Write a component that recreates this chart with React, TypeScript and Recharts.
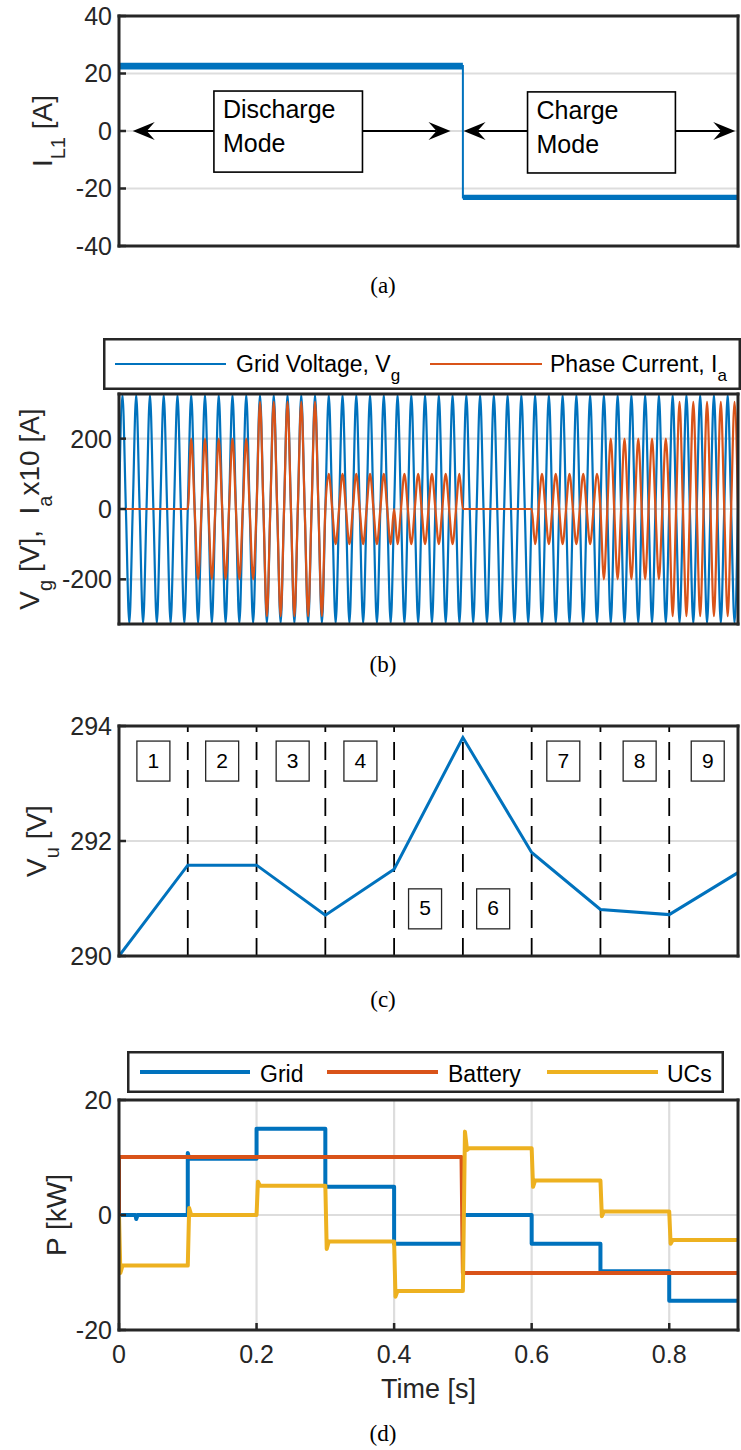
import React from 'react';
import {
  ComposedChart,
  LineChart,
  Line,
  Area,
  XAxis,
  YAxis,
  CartesianGrid,
  ReferenceLine,
  ReferenceArea,
  ReferenceDot,
  Legend,
} from 'recharts';

// MATLAB default colour order
const BLUE = '#0072BD';
const ORANGE = '#D95319';
const YELLOW = '#EDB120';
const INK = '#262626';
const GRID_GREY = '#dddddd';
const SANS = '"Liberation Sans", Arial, Helvetica, sans-serif';
const SERIF = '"Liberation Serif", "Times New Roman", serif';

// ---- shared time axis ----
const T_DOMAIN = [0, 0.9];
const T_TICKS = [0, 0.2, 0.4, 0.6, 0.8];

// ---- (a) inductor current I_L1 [A] ----
const IL1_DOMAIN = [-40, 40];
const IL1_TICKS = [-40, -20, 0, 20, 40];
const IL1_T = [0, 0, 0.5, 0.5, 0.9];
const IL1_MEAN = [-2, 22.6, 22.6, -23.1, -23.1];
// switching ripple envelope on the two plateaus
const IL1_RIPPLE_T = [[0, 0.5], [0.5, 0.9]];
const IL1_RIPPLE = [[21.4, 23.7], [-24, -22.2]];
const MODE_NAMES = [['Discharge', 'Mode'], ['Charge', 'Mode']];
const MODE_BOX_T = [[0.138, 0.354], [0.594, 0.809]];
const MODE_BOX_I = [[-14.3, 13.9], [-14.6, 13.6]];
const MODE_ARROWS = [[0.138, 0.02], [0.354, 0.482], [0.594, 0.501], [0.809, 0.896]]; // [tail, tip] at 0 A

// ---- (b) grid voltage and phase current ----
const VG_DOMAIN = [-327, 327];
const VG_TICKS = [-200, 0, 200];
const GRID_HZ = 50;
const VG_PEAK = 325;
const QUARTER_CYCLE = [0, 1, 0, -1]; // sine sampled at quarter periods
const STAGE_LEN = 0.1;
const IA_PEAK_X10 = [0, 200, 305, 100, -100, 0, -100, -200, -305]; // negative = antiphase to Vg

// ---- (c) DC-link voltage V_u ----
const VU_DOMAIN = [290, 294];
const VU_TICKS = [290, 292, 294];
const VU_T = [0, 0.1, 0.2, 0.3, 0.4, 0.5, 0.6, 0.7, 0.8, 0.9];
const VU = [290, 291.58, 291.58, 290.71, 291.51, 293.8, 291.8, 290.81, 290.72, 291.45];
const STAGE_EDGES = [0.1, 0.2, 0.3, 0.4, 0.5, 0.6, 0.7, 0.8];
const STAGE_NAMES = ['1', '2', '3', '4', '5', '6', '7', '8', '9'];
const STAGE_TAG_T = [0.05, 0.15, 0.2525, 0.351, 0.445, 0.544, 0.646, 0.757, 0.856];
const STAGE_TAG_V = [293.39, 293.39, 293.39, 293.39, 290.82, 290.82, 293.39, 293.39, 293.39];

// ---- (d) power sharing P [kW] ----
const P_DOMAIN = [-20, 20];
const P_TICKS = [-20, 0, 20];
const P_GRID = [
  [0, 0], [0.024, 0], [0.025, -0.7], [0.027, 0], [0.1, 0], [0.1, 10.8], [0.102, 9.8], [0.2, 9.8],
  [0.2, 15], [0.3, 15], [0.3, 4.9], [0.4, 4.9], [0.4, -5], [0.5, -5], [0.5, 0], [0.6, 0],
  [0.6, -5], [0.7, -5], [0.7, -9.8], [0.8, -9.8], [0.8, -14.9], [0.9, -14.9],
];
const P_BATTERY = [[0, 0], [0, 10.1], [0.498, 10.1], [0.5, -10.1], [0.9, -10.1]];
const P_UCS = [
  [0, 0], [0.002, -10.1], [0.005, -8.8], [0.1, -8.8], [0.102, 1.2], [0.105, 0], [0.2, 0],
  [0.202, 5.8], [0.205, 5.1], [0.3, 5.1], [0.302, -5.9], [0.305, -4.6], [0.4, -4.6],
  [0.402, -14.2], [0.405, -13.2], [0.5, -13.2], [0.503, 14.5], [0.506, 11.3], [0.509, 11.6],
  [0.6, 11.6], [0.602, 4.9], [0.605, 6.0], [0.7, 6.0], [0.702, -0.2], [0.705, 0.6], [0.8, 0.6],
  [0.802, -5.0], [0.805, -4.35], [0.9, -4.35],
];
const POWER_NAMES = ['Grid', 'Battery', 'UCs'];
const POWER_COLORS = [BLUE, ORANGE, YELLOW];
const CAPTIONS = ['(a)', '(b)', '(c)', '(d)'];

// ---- tables built from the arrays above ----
const il1Data = IL1_T.map((t, k) => ({ t, i: IL1_MEAN[k] }));
const rippleData = IL1_RIPPLE_T.map((ts, k) => ts.map((t) => ({ t, band: IL1_RIPPLE[k] })));
const QUARTER = 1 / (4 * GRID_HZ);
const waveData = Array.from({ length: Math.round(0.9 / QUARTER) + 1 }, (_, k) => {
  const t = k * QUARTER;
  const u = QUARTER_CYCLE[k % 4];
  const stage = Math.min(IA_PEAK_X10.length - 1, Math.floor(t / STAGE_LEN + 1e-9));
  return { t, vg: VG_PEAK * u, ia: IA_PEAK_X10[stage] * u };
});
const vuData = VU_T.map((t, k) => ({ t, vu: VU[k] }));
const powerData = [P_GRID, P_BATTERY, P_UCS].map((pts) => pts.map(([t, p]) => ({ t, p })));

// ---- layout ----
const W = 741;
const PLOT_LEFT = 119;
const PLOT_RIGHT = 738;
const Y_AXIS_W = 70;
const PLOT_H = 230;
// the top / right frame axes take 1px each
const MARGIN_X = { left: PLOT_LEFT - Y_AXIS_W, right: W - PLOT_RIGHT - 1 };
const CAPTION_Y = [286, 665, 1000, 1434];

const AXIS_LINE = { stroke: INK, strokeWidth: 3, strokeLinecap: 'square' as const };
const TICK_LINE = { stroke: INK, strokeWidth: 2.5 };
const TICK_TEXT = { fontSize: 25, fill: INK, fontFamily: SANS };

type Part = { s: string; sub?: boolean };

function rich(parts: Part[], subSize: number, shift: number) {
  let down = false;
  return parts.map((p, i) => {
    const dy = p.sub && !down ? shift : !p.sub && down ? -shift : 0;
    down = !!p.sub;
    return (
      <tspan key={i} dy={dy || undefined} fontSize={p.sub ? subSize : undefined}>
        {p.s}
      </tspan>
    );
  });
}

const yLabel = (parts: Part[], baselineX: number, plotTop: number) => () => {
  const cy = plotTop + PLOT_H / 2;
  return (
    <text
      x={baselineX}
      y={cy}
      transform={`rotate(-90 ${baselineX} ${cy})`}
      textAnchor="middle"
      fontSize={28}
      fill={INK}
      fontFamily={SANS}
      style={{ whiteSpace: 'pre' }}
    >
      {rich(parts, 20, 13)}
    </text>
  );
};

// inward ticks on all four sides, like a MATLAB box
function frame(yDomain: number[], yTicks: number[], label: any, extraX: any = {}) {
  return [
    <CartesianGrid key="grid" stroke={GRID_GREY} strokeWidth={2.2} />,
    <XAxis
      key="xb"
      dataKey="t"
      type="number"
      domain={T_DOMAIN}
      ticks={T_TICKS}
      allowDataOverflow
      height={1}
      tick={false}
      tickSize={-7}
      axisLine={AXIS_LINE}
      tickLine={TICK_LINE}
      {...extraX}
    />,
    <XAxis
      key="xt"
      xAxisId="top"
      orientation="top"
      type="number"
      domain={T_DOMAIN}
      ticks={T_TICKS}
      allowDataOverflow
      height={1}
      tick={false}
      tickSize={-7}
      axisLine={AXIS_LINE}
      tickLine={TICK_LINE}
    />,
    <YAxis
      key="yl"
      type="number"
      domain={yDomain}
      ticks={yTicks}
      allowDataOverflow
      width={Y_AXIS_W}
      tick={TICK_TEXT}
      tickSize={-7}
      tickMargin={14}
      axisLine={AXIS_LINE}
      tickLine={TICK_LINE}
      label={label}
    />,
    <YAxis
      key="yr"
      yAxisId="right"
      orientation="right"
      type="number"
      domain={yDomain}
      ticks={yTicks}
      allowDataOverflow
      width={1}
      tick={false}
      tickSize={-7}
      axisLine={AXIS_LINE}
      tickLine={TICK_LINE}
    />,
  ];
}

const arrowShape = (p: any) => {
  const { x1, y1, x2, y2 } = p;
  const len = Math.hypot(x2 - x1, y2 - y1) || 1;
  const ux = (x2 - x1) / len;
  const uy = (y2 - y1) / len;
  const L = 22, HW = 9, N = 14;
  const pt = (a: number, b: number) => `${x2 - ux * a - uy * b},${y2 - uy * a + ux * b}`;
  return (
    <g>
      <line x1={x1} y1={y1} x2={x2 - ux * N} y2={y2 - uy * N} stroke="#000" strokeWidth={2} />
      <polygon points={[pt(0, 0), pt(L, HW), pt(N, 0), pt(L, -HW)].join(' ')} fill="#000" />
    </g>
  );
};

const modeBox = (lines: string[]) => (p: any) => (
  <g>
    <rect x={p.x} y={p.y} width={p.width} height={p.height} fill="#fff" stroke="#000" strokeWidth={1.6} />
    {lines.map((s, i) => (
      <text key={i} x={p.x + 9} y={p.y + 27 + i * 34} fontSize={25} fill="#000" fontFamily={SANS}>
        {s}
      </text>
    ))}
  </g>
);

const stageTag = (name: string) => (p: any) => (
  <g>
    <rect x={p.cx - 16.5} y={p.cy - 20} width={33} height={40} fill="#fff" stroke={INK} strokeWidth={1.3} />
    <text x={p.cx} y={p.cy + 6.5} textAnchor="middle" fontSize={21} fill="#000" fontFamily={SANS}>
      {name}
    </text>
  </g>
);

function LegendFrame({ width, height, children }: { width: number; height: number; children: React.ReactNode }) {
  return (
    <svg width={width} height={height} style={{ display: 'block', overflow: 'visible' }}>
      <rect x={1.25} y={1.25} width={width - 2.5} height={height - 2.5} fill="#fff" stroke={INK} strokeWidth={2.5} />
      {children}
    </svg>
  );
}

const WAVE_LEGEND: { parts: Part[]; color: string }[] = [
  { parts: [{ s: 'Grid Voltage, V' }, { s: 'g', sub: true }], color: BLUE },
  { parts: [{ s: 'Phase Current, I' }, { s: 'a', sub: true }], color: ORANGE },
];
const WAVE_LEGEND_X = [[12, 123, 133], [327, 439, 447]];
const POWER_LEGEND_X = [[13, 123, 133], [200, 311, 321], [420, 531, 540]];

const waveLegend = () => (
  <LegendFrame width={638} height={52}>
    {WAVE_LEGEND.map((it, i) => (
      <g key={i}>
        <line x1={WAVE_LEGEND_X[i][0]} x2={WAVE_LEGEND_X[i][1]} y1={26} y2={26} stroke={it.color} strokeWidth={2} />
        <text x={WAVE_LEGEND_X[i][2]} y={34} fontSize={23} fill="#000" fontFamily={SANS} style={{ whiteSpace: 'pre' }}>
          {rich(it.parts, 17, 9)}
        </text>
      </g>
    ))}
  </LegendFrame>
);

const powerLegend = () => (
  <LegendFrame width={597} height={42}>
    {POWER_NAMES.map((name, i) => (
      <g key={name}>
        <line x1={POWER_LEGEND_X[i][0]} x2={POWER_LEGEND_X[i][1]} y1={21} y2={21} stroke={POWER_COLORS[i]} strokeWidth={4} />
        <text x={POWER_LEGEND_X[i][2]} y={30.5} fontSize={23} fill="#000" fontFamily={SANS}>
          {name}
        </text>
      </g>
    ))}
  </LegendFrame>
);

const place = (top: number): React.CSSProperties => ({ position: 'absolute', left: 0, top });

export default function App() {
  return (
    <div style={{ position: 'absolute', left: 0, top: 0, width: W, height: 1450, background: '#fff', overflow: 'hidden' }}>
      {/* (a) */}
      <div style={place(0)}>
        <ComposedChart width={W} height={270} margin={{ top: 15, bottom: 23, ...MARGIN_X }}>
          {frame(IL1_DOMAIN, IL1_TICKS, yLabel([{ s: 'I' }, { s: 'L1', sub: true }, { s: ' [A]' }], 52, 16))}
          {rippleData.map((d, k) => (
            <Area key={`r${k}`} data={d} dataKey="band" type="linear" stroke="none" fill={BLUE} fillOpacity={1} isAnimationActive={false} />
          ))}
          <Line data={il1Data} dataKey="i" type="linear" stroke={BLUE} strokeWidth={2} dot={false} activeDot={false} isAnimationActive={false} />
          {MODE_ARROWS.map(([from, to], k) => (
            <ReferenceLine key={`a${k}`} segment={[{ x: from, y: 0 }, { x: to, y: 0 }]} shape={arrowShape} />
          ))}
          {MODE_NAMES.map((lines, k) => (
            <ReferenceArea
              key={`m${k}`}
              x1={MODE_BOX_T[k][0]}
              x2={MODE_BOX_T[k][1]}
              y1={MODE_BOX_I[k][0]}
              y2={MODE_BOX_I[k][1]}
              shape={modeBox(lines)}
            />
          ))}
        </ComposedChart>
      </div>

      {/* (b) */}
      <div style={place(330)}>
        <LineChart width={W} height={320} data={waveData} margin={{ top: 63, bottom: 25, ...MARGIN_X }}>
          {frame(
            VG_DOMAIN,
            VG_TICKS,
            yLabel(
              [{ s: 'V' }, { s: 'g', sub: true }, { s: ' [V],  I' }, { s: 'a', sub: true }, { s: 'x10 [A]' }],
              39,
              64,
            ),
          )}
          <Line dataKey="vg" type="monotone" stroke={BLUE} strokeWidth={2.2} dot={false} activeDot={false} isAnimationActive={false} />
          <Line dataKey="ia" type="monotone" stroke={ORANGE} strokeWidth={2.2} dot={false} activeDot={false} isAnimationActive={false} />
          <Legend
            verticalAlign="middle"
            align="center"
            content={waveLegend}
            wrapperStyle={{ position: 'absolute', left: 103, top: 8, width: 638, height: 52, margin: 0, padding: 0 }}
          />
        </LineChart>
      </div>

      {/* (c) */}
      <div style={place(700)}>
        <LineChart width={W} height={280} data={vuData} margin={{ top: 25, bottom: 23, ...MARGIN_X }}>
          {frame(VU_DOMAIN, VU_TICKS, yLabel([{ s: 'V' }, { s: 'u', sub: true }, { s: ' [V]' }], 46, 26))}
          {STAGE_EDGES.map((t) => (
            <ReferenceLine key={t} x={t} stroke="#000" strokeWidth={1.8} strokeDasharray="18 10" />
          ))}
          <Line dataKey="vu" type="linear" stroke={BLUE} strokeWidth={3} dot={false} activeDot={false} isAnimationActive={false} />
          {STAGE_NAMES.map((name, k) => (
            <ReferenceDot key={name} x={STAGE_TAG_T[k]} y={STAGE_TAG_V[k]} shape={stageTag(name)} />
          ))}
        </LineChart>
      </div>

      {/* (d) */}
      <div style={place(1040)}>
        <LineChart width={W} height={380} margin={{ top: 59, bottom: 20, ...MARGIN_X }}>
          {frame(P_DOMAIN, P_TICKS, yLabel([{ s: 'P [kW]' }], 66, 60), {
            height: 70,
            tick: TICK_TEXT,
            tickMargin: 22,
            label: () => (
              <text x={(PLOT_LEFT + PLOT_RIGHT) / 2} y={357.7} textAnchor="middle" fontSize={27} fill={INK} fontFamily={SANS}>
                Time [s]
              </text>
            ),
          })}
          {powerData.map((d, k) => (
            <Line
              key={POWER_NAMES[k]}
              data={d}
              dataKey="p"
              name={POWER_NAMES[k]}
              type="linear"
              stroke={POWER_COLORS[k]}
              strokeWidth={4}
              strokeLinejoin="round"
              dot={false}
              activeDot={false}
              isAnimationActive={false}
            />
          ))}
          <Legend
            verticalAlign="middle"
            align="center"
            content={powerLegend}
            wrapperStyle={{ position: 'absolute', left: 127, top: 11, width: 597, height: 42, margin: 0, padding: 0 }}
          />
        </LineChart>
      </div>

      {CAPTIONS.map((c, k) => (
        <div
          key={c}
          style={{
            position: 'absolute',
            left: 333,
            width: 100,
            top: CAPTION_Y[k] - 14,
            lineHeight: '28px',
            textAlign: 'center',
            fontFamily: SERIF,
            fontSize: 23,
            color: '#000',
          }}
        >
          {c}
        </div>
      ))}
    </div>
  );
}
